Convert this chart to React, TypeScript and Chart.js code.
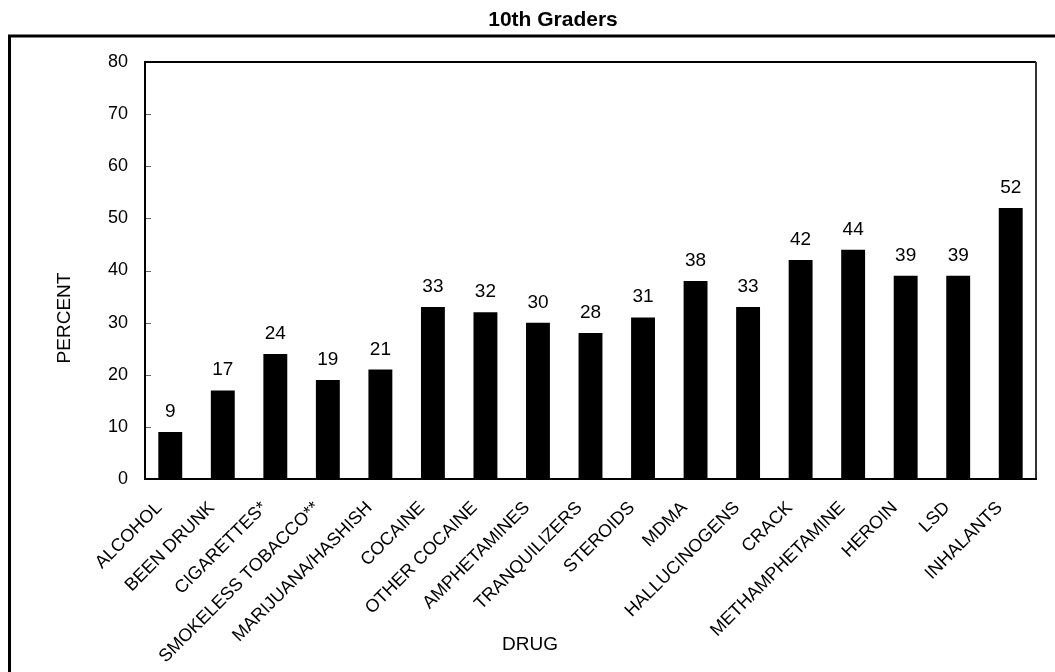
import React, { useEffect, useRef } from "react";
import { Chart, registerables } from "chart.js";

Chart.register(...registerables);

const chartTitle = "10th Graders";
const xAxisTitle = "DRUG";
const yAxisTitle = "PERCENT";

const categories = [
  "ALCOHOL",
  "BEEN DRUNK",
  "CIGARETTES*",
  "SMOKELESS TOBACCO**",
  "MARIJUANA/HASHISH",
  "COCAINE",
  "OTHER COCAINE",
  "AMPHETAMINES",
  "TRANQUILIZERS",
  "STEROIDS",
  "MDMA",
  "HALLUCINOGENS",
  "CRACK",
  "METHAMPHETAMINE",
  "HEROIN",
  "LSD",
  "INHALANTS",
];

const percentValues = [9, 17, 24, 19, 21, 33, 32, 30, 28, 31, 38, 33, 42, 44, 39, 39, 52];

const yMin = 0;
const yMax = 80;
const yStep = 10;

const FONT = '"Liberation Sans", Arial, Helvetica, sans-serif';

const decorPlugin = {
  id: "decor",
  afterDraw(chart: any) {
    const ctx = chart.ctx;
    const area = chart.chartArea;
    const xs = chart.scales.x;
    const ys = chart.scales.y;
    ctx.save();

    // outer frame (left + top)
    ctx.strokeStyle = "#000";
    ctx.lineWidth = 3;
    ctx.beginPath();
    ctx.moveTo(9.5, 672);
    ctx.lineTo(9.5, 36);
    ctx.lineTo(1055, 36);
    ctx.stroke();

    // title
    ctx.fillStyle = "#000";
    ctx.font = `bold 21px ${FONT}`;
    ctx.textAlign = "center";
    ctx.textBaseline = "middle";
    ctx.fillText(chartTitle, 553, 20);

    // axis titles
    ctx.font = `19px ${FONT}`;
    ctx.fillText(xAxisTitle, 530, 645);
    ctx.save();
    ctx.translate(64.5, 318);
    ctx.rotate(-Math.PI / 2);
    ctx.fillText(yAxisTitle, 0, 0);
    ctx.restore();

    // plot box
    ctx.lineWidth = 2;
    ctx.strokeStyle = "#000";
    ctx.beginPath();
    ctx.moveTo(area.left + 1, area.bottom);
    ctx.lineTo(area.left + 1, area.top);
    ctx.lineTo(area.right - 1, area.top);
    ctx.stroke();
    ctx.strokeStyle = "#333";
    ctx.beginPath();
    ctx.moveTo(area.right - 1, area.top);
    ctx.lineTo(area.right - 1, area.bottom);
    ctx.stroke();
    ctx.strokeStyle = "#000";
    ctx.beginPath();
    ctx.moveTo(area.left, area.bottom);
    ctx.lineTo(area.right, area.bottom);
    ctx.stroke();

    // inside y ticks
    ctx.strokeStyle = "#666";
    ctx.lineWidth = 1;
    ys.ticks.forEach((t: any) => {
      if (t.value === yMin || t.value === yMax) return;
      const y = Math.round(ys.getPixelForValue(t.value)) + 0.5;
      ctx.beginPath();
      ctx.moveTo(area.left + 2, y);
      ctx.lineTo(area.left + 7, y);
      ctx.stroke();
    });

    // rotated category labels
    ctx.fillStyle = "#000";
    ctx.font = `18px ${FONT}`;
    ctx.textAlign = "right";
    ctx.textBaseline = "middle";
    categories.forEach((label, i) => {
      const x = xs.getPixelForTick(i);
      ctx.save();
      ctx.translate(x - 11, area.bottom + 26);
      ctx.rotate(-Math.PI / 4);
      ctx.fillText(label, 0, 0);
      ctx.restore();
    });

    // value labels
    const meta = chart.getDatasetMeta(0);
    ctx.font = `19px ${FONT}`;
    ctx.textAlign = "center";
    ctx.textBaseline = "alphabetic";
    meta.data.forEach((bar: any, i: number) => {
      ctx.fillText(String(percentValues[i]), bar.x, bar.y - 15);
    });

    ctx.restore();
  },
};

export default function App() {
  const canvasRef = useRef<HTMLCanvasElement | null>(null);

  useEffect(() => {
    document.body.style.margin = "0";
    const canvas = canvasRef.current;
    if (!canvas) return;
    const chart = new Chart(canvas, {
      type: "bar",
      data: {
        labels: categories,
        datasets: [
          {
            data: percentValues,
            backgroundColor: "#000",
            borderWidth: 0,
            barPercentage: 0.455,
            categoryPercentage: 1,
          },
        ],
      },
      options: {
        animation: false,
        responsive: false,
        devicePixelRatio: 1,
        layout: { padding: { top: 62, right: 18, left: 0, bottom: 0 } },
        plugins: {
          legend: { display: false },
          tooltip: { enabled: false },
          title: { display: false },
        },
        scales: {
          x: {
            grid: { display: false },
            border: { display: false },
            ticks: { display: false },
            afterFit: (scale: any) => {
              scale.height = 672 - 479;
            },
          },
          y: {
            min: yMin,
            max: yMax,
            grid: { display: false, drawTicks: false },
            border: { display: false },
            ticks: {
              stepSize: yStep,
              padding: 16,
              color: "#000",
              font: { family: FONT, size: 18 },
            },
            afterFit: (scale: any) => {
              scale.width = 144;
            },
          },
        },
      },
      plugins: [decorPlugin],
    });
    return () => chart.destroy();
  }, []);

  return (
    <div style={{ width: 1055, height: 672, position: "relative", background: "#fff" }}>
      <canvas ref={canvasRef} width={1055} height={672} style={{ display: "block", width: 1055, height: 672 }} />
    </div>
  );
}
